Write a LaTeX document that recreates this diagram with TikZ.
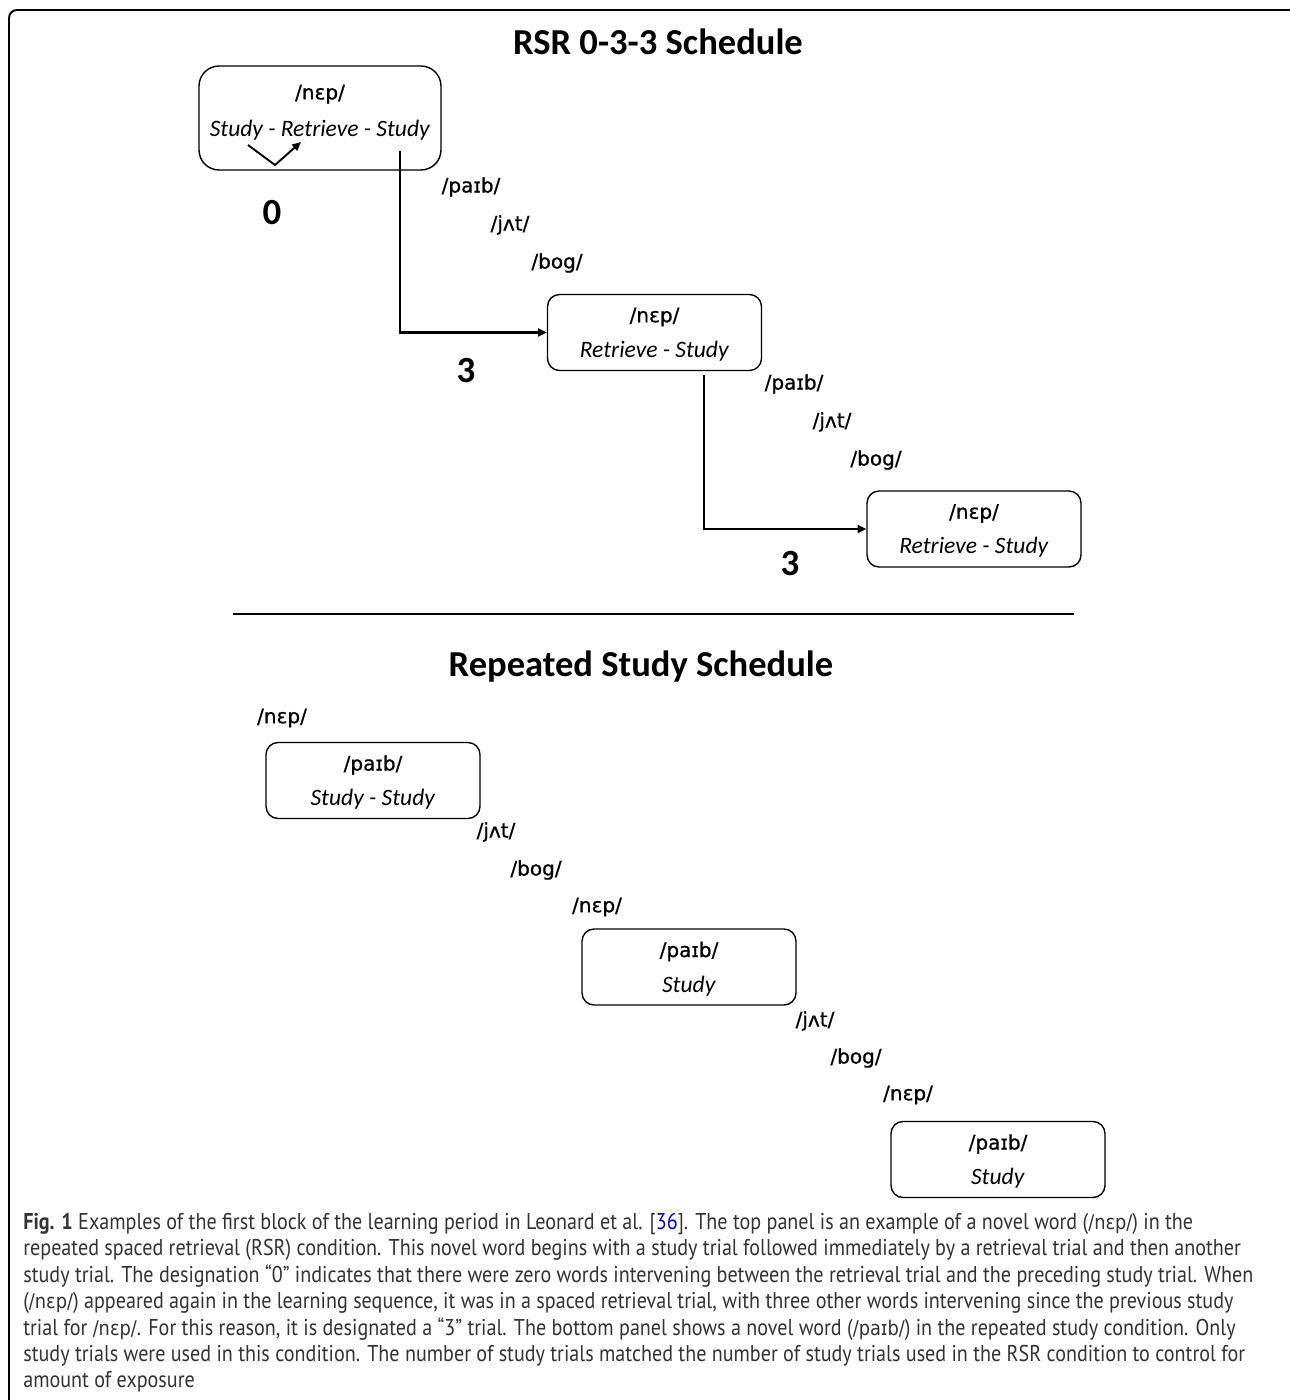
\documentclass[tikz,border=0pt]{standalone}
\usepackage{fontspec}
\setmainfont{Carlito}
\newfontfamily\ipafont[FakeBold=0.8]{DejaVu Sans}
\newfontfamily\capfont[FakeStretch=0.88]{PT Sans}
\newfontfamily\capipa[FakeStretch=0.88]{DejaVu Sans}
\usetikzlibrary{arrows.meta, positioning, calc}

\begin{document}
\begin{tikzpicture}[
  x=0.02cm, y=-0.02cm,
  trial/.style={
    rectangle,
    draw,
    rounded corners=0.24cm,
    line width=0.8pt,
    minimum width=4.28cm,
    minimum height=1.52cm,
    align=center,
    inner sep=0pt,
    text depth=-4pt,
    font=\fontsize{13.4}{20}\selectfont
  },
  heading/.style={
    inner sep=0pt,
    font=\bfseries\fontsize{20.8}{24}\selectfont
  },
  word/.style={
    inner sep=0pt,
    font=\ipafont\fontsize{11.4}{13}\selectfont
  },
  gap/.style={
    inner sep=0pt,
    font=\bfseries\fontsize{21}{24}\selectfont
  },
  note/.style={
    align=left,
    inner sep=0pt,
    text=black!80,
    font=\capfont\fontsize{13}{15}\selectfont
  },
  arrow/.style={-{Triangle[length=5pt,width=4.5pt]}, line width=1.3pt},
  tick/.style={-{Triangle[length=5pt,width=4.5pt]}, line width=1.1pt}
]
\useasboundingbox (0,0) rectangle (1290,1400);

% ============================================================
% Frame
% ============================================================

\draw[line width=1.1pt, rounded corners=0.16cm] (1300,10) -- (9,10) -- (9,1410);

% ============================================================
% Top: RSR 0-3-3 schedule
% ============================================================

\node[heading] (rsrtitle) at (658,42) {RSR 0-3-3 Schedule};

\node[trial, rounded corners=0.4cm, minimum width=4.84cm, minimum height=2.08cm,
      text depth=8.5pt] (rsr1) at (320,118) {
{\ipafont\fontsize{11.4}{13}\selectfont /nεp/}\\[1pt]
\textit{Study - Retrieve - Study}
};

\node[trial] (rsr2) at (654.5,332.5) {
{\ipafont\fontsize{11.4}{13}\selectfont /nεp/}\\
\textit{Retrieve - Study}
};

\node[trial] (rsr3) at (974,529) {
{\ipafont\fontsize{11.4}{13}\selectfont /nεp/}\\
\textit{Retrieve - Study}
};

% immediate retrieval
\coordinate (tickA) at (248,145);
\coordinate (tickB) at (275,165);
\coordinate (tickC) at (301,142);
\draw[tick] (tickA) -- (tickB) -- (tickC);

\node[gap] (gap0) at (272,213) {0};

% first spacing
\node[word] (pA1) at (471,187) {/paɪb/};
\node[word] (jA1) at (510,225) {/jʌt/};
\node[word] (bA1) at (557,263) {/bog/};

\coordinate (fromA) at (400,151);
\draw[arrow] (fromA) |- (rsr2.west);

\node[gap] (gap1) at (466,371) {3};

% second spacing
\node[word] (pA2) at (794,384) {/paɪb/};
\node[word] (jA2) at (832,422) {/jʌt/};
\node[word] (bA2) at (876,460) {/bog/};

\coordinate (fromB) at (704,375);
\draw[arrow] (fromB) |- (rsr3.west);

\node[gap] (gap2) at (790,564) {3};

% ============================================================
% Separator
% ============================================================

\coordinate (ruleL) at (233,614);
\coordinate (ruleR) at (1074,614);
\draw[line width=0.8pt] (ruleL) -- (ruleR);

% ============================================================
% Bottom: repeated study schedule
% ============================================================

\node[heading] (rstitle) at (641,667) {Repeated Study Schedule};

\node[word] (nB0) at (282,718) {/nεp/};

\node[trial] (rs1) at (373,780.5) {
{\ipafont\fontsize{11.4}{13}\selectfont /paɪb/}\\
\textit{Study - Study}
};

\node[word] (jB1) at (496,832) {/jʌt/};
\node[word] (bB1) at (536,870) {/bog/};
\node[word] (nB1) at (597,907) {/nεp/};

\node[trial] (rs2) at (689,967) {
{\ipafont\fontsize{11.4}{13}\selectfont /paɪb/}\\
\textit{Study}
};

\node[word] (jB2) at (815,1021) {/jʌt/};
\node[word] (bB2) at (856,1058) {/bog/};
\node[word] (nB2) at (908,1095) {/nεp/};

\node[trial] (rs3) at (998,1159.5) {
{\ipafont\fontsize{11.4}{13}\selectfont /paɪb/}\\
\textit{Study}
};

% ============================================================
% Caption
% ============================================================

\node[note, anchor=north west] (caption) at (23,1213) {
\textbf{Fig. 1} Examples of the first block of the learning period in Leonard et al. [\textcolor{blue}{36}]. The top panel is an example of a novel word ({\capipa\fontsize{11.5}{15}\selectfont /nεp/}) in the\\
repeated spaced retrieval (RSR) condition. This novel word begins with a study trial followed immediately by a retrieval trial and then another\\
study trial. The designation “0” indicates that there were zero words intervening between the retrieval trial and the preceding study trial. When\\
({\capipa\fontsize{11.5}{15}\selectfont /nεp/}) appeared again in the learning sequence, it was in a spaced retrieval trial, with three other words intervening since the previous study\\
trial for {\capipa\fontsize{11.5}{15}\selectfont /nεp/}. For this reason, it is designated a “3” trial. The bottom panel shows a novel word ({\capipa\fontsize{11.5}{15}\selectfont /paɪb/}) in the repeated study condition. Only\\
study trials were used in this condition. The number of study trials matched the number of study trials used in the RSR condition to control for\\
amount of exposure
};

\end{tikzpicture}
\end{document}
